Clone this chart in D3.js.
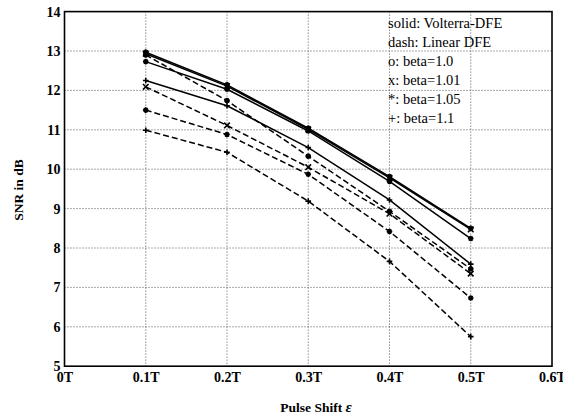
<!DOCTYPE html>
<html>
<head>
<meta charset="utf-8">
<script src="https://cdn.jsdelivr.net/npm/d3@7"></script>
<style>
  html, body { margin: 0; padding: 0; background: #fff; }
  svg { display: block; }
  text { font-family: "Liberation Serif", "DejaVu Serif", serif; fill: #000; }
</style>
</head>
<body>
<svg id="chart" width="563" height="420"></svg>
<script>
// Pulse shift positions (in units of T)
const shifts = [0.1, 0.2, 0.3, 0.4, 0.5];

// SNR (dB) of the Volterra-DFE, one array per beta
const volterraBeta100 = [12.97, 12.14, 11.04, 9.81, 8.50];
const volterraBeta101 = [12.93, 12.11, 11.01, 9.78, 8.47];
const volterraBeta105 = [12.73, 12.03, 10.97, 9.69, 8.24];
const volterraBeta110 = [12.25, 11.61, 10.55, 9.22, 7.59];

// SNR (dB) of the linear DFE, one array per beta
const linearBeta100 = [12.90, 11.74, 10.33, 8.93, 7.47];
const linearBeta101 = [12.09, 11.11, 10.05, 8.87, 7.35];
const linearBeta105 = [11.50, 10.88, 9.87, 8.42, 6.73];
const linearBeta110 = [10.99, 10.43, 9.19, 7.66, 5.75];

// Axis ticks
const xTickValues = [0, 0.1, 0.2, 0.3, 0.4, 0.5, 0.6];
const xTickLabels = ["0T", "0.1T", "0.2T", "0.3T", "0.4T", "0.5T", "0.6T"];
const yTickValues = [5, 6, 7, 8, 9, 10, 11, 12, 13, 14];

// Legend text lines
const legendLines = ["solid: Volterra-DFE", "dash: Linear DFE", "o: beta=1.0",
                     "x: beta=1.01", "*: beta=1.05", "+: beta=1.1"];

const series = [
  { values: volterraBeta100, dashed: false, marker: "o" },
  { values: volterraBeta101, dashed: false, marker: "x" },
  { values: volterraBeta105, dashed: false, marker: "*" },
  { values: volterraBeta110, dashed: false, marker: "+" },
  { values: linearBeta100, dashed: true, marker: "o" },
  { values: linearBeta101, dashed: true, marker: "x" },
  { values: linearBeta105, dashed: true, marker: "*" },
  { values: linearBeta110, dashed: true, marker: "+" }
];

const svg = d3.select("#chart");
const plot = { left: 64.5, right: 552, top: 11.6, bottom: 366.2 };

const x = d3.scaleLinear().domain([0, 0.6]).range([plot.left, plot.right]);
const y = d3.scaleLinear().domain([5, 14]).range([plot.bottom, plot.top]);

// Dotted grid
const grid = svg.append("g");
grid.selectAll("line.v").data(xTickValues.slice(1, -1)).enter().append("line")
  .attr("x1", d => x(d)).attr("x2", d => x(d))
  .attr("y1", plot.top).attr("y2", plot.bottom)
  .attr("stroke", "#555").attr("stroke-width", 1).attr("stroke-dasharray", "1,2");
grid.selectAll("line.h").data(yTickValues.slice(1, -1)).enter().append("line")
  .attr("x1", plot.left).attr("x2", plot.right)
  .attr("y1", d => y(d)).attr("y2", d => y(d))
  .attr("stroke", "#555").attr("stroke-width", 1).attr("stroke-dasharray", "1,2");

// Axes
const xAxis = d3.axisBottom(x).tickValues(xTickValues)
  .tickFormat((d, i) => xTickLabels[i]).tickSize(0).tickPadding(6);
const yAxis = d3.axisLeft(y).tickValues(yTickValues)
  .tickFormat(d3.format("d")).tickSize(0).tickPadding(4);

const gx = svg.append("g").attr("transform", `translate(0,${plot.bottom})`).call(xAxis);
const gy = svg.append("g").attr("transform", `translate(${plot.left},0)`).call(yAxis);
[gx, gy].forEach(g => {
  g.select(".domain").remove();
  g.selectAll("text").style("font-family", "'Liberation Serif', serif")
    .style("font-size", "14px").style("font-weight", "bold").attr("fill", "#000");
});

// Frame
svg.append("rect")
  .attr("x", plot.left).attr("y", plot.top)
  .attr("width", plot.right - plot.left).attr("height", plot.bottom - plot.top)
  .attr("fill", "none").attr("stroke", "#000").attr("stroke-width", 1.6);

// Lines
const line = d3.line().x((d, i) => x(shifts[i])).y(d => y(d));
const lines = svg.append("g");
series.forEach(s => {
  lines.append("path")
    .attr("d", line(s.values))
    .attr("fill", "none")
    .attr("stroke", "#000")
    .attr("stroke-width", 1.5)
    .attr("stroke-dasharray", s.dashed ? "6,3" : null);
});

// Markers
const markerPath = (m, r) => {
  if (m === "o") return null;
  if (m === "x") return `M${-r},${-r}L${r},${r}M${-r},${r}L${r},${-r}`;
  if (m === "+") return `M${-r},0L${r},0M0,${-r}L0,${r}`;
  // asterisk
  return `M${-r},0L${r},0M0,${-r}L0,${r}M${-r*0.7},${-r*0.7}L${r*0.7},${r*0.7}M${-r*0.7},${r*0.7}L${r*0.7},${-r*0.7}`;
};
series.forEach(s => {
  const g = lines.append("g");
  s.values.forEach((v, i) => {
    if (s.marker === "o") {
      g.append("circle").attr("cx", x(shifts[i])).attr("cy", y(v)).attr("r", 2.4)
        .attr("fill", "#000").attr("stroke", "#000");
    } else {
      g.append("path").attr("transform", `translate(${x(shifts[i])},${y(v)})`)
        .attr("d", markerPath(s.marker, 2.8))
        .attr("stroke", "#000").attr("stroke-width", 1.6).attr("fill", "none");
    }
  });
});

// Legend text block
svg.append("g").selectAll("text").data(legendLines).enter().append("text")
  .attr("x", 388).attr("y", (d, i) => 28 + i * 19)
  .style("font-size", "14.5px")
  .text(d => d);

// Axis titles
svg.append("text")
  .attr("transform", "translate(23,190) rotate(-90)")
  .attr("text-anchor", "middle")
  .style("font-size", "13.5px").style("font-weight", "bold")
  .text("SNR in dB");

const xt = svg.append("text")
  .attr("x", 316).attr("y", 412)
  .attr("text-anchor", "middle")
  .style("font-size", "13.5px").style("font-weight", "bold");
xt.append("tspan").text("Pulse Shift ");
xt.append("tspan").style("font-style", "italic").style("font-size", "15px").text("ε");
</script>
</body>
</html>
